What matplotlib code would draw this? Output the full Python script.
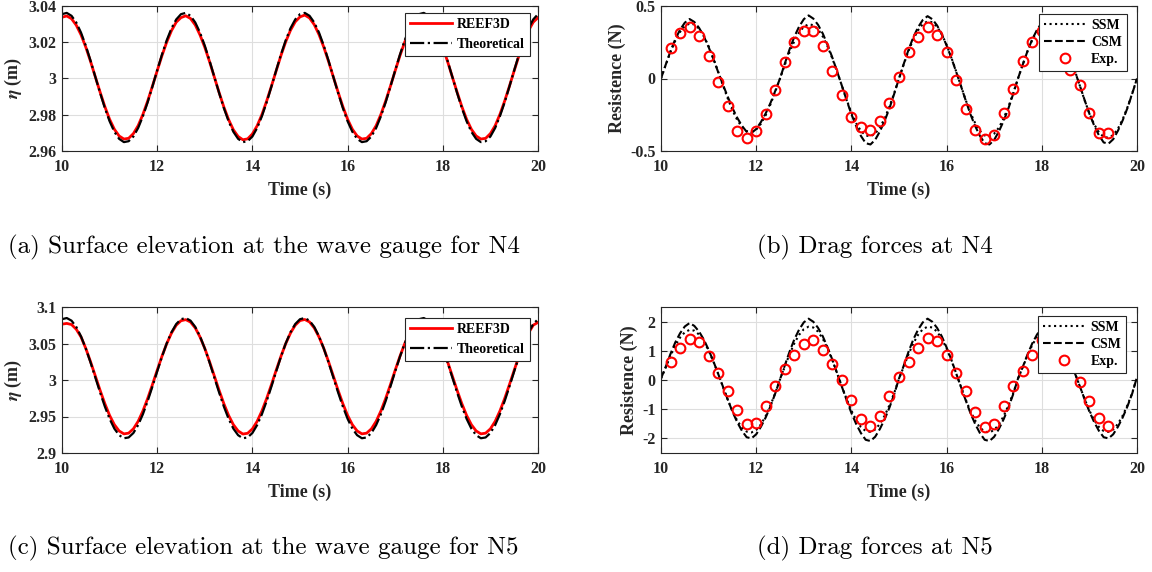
import numpy as np
import matplotlib
matplotlib.use('Agg')
import matplotlib.pyplot as plt

plt.rcParams['font.family'] = ['Liberation Serif', 'DejaVu Serif']
plt.rcParams['font.weight'] = 'bold'
plt.rcParams['axes.unicode_minus'] = False
plt.rcParams['mathtext.fontset'] = 'stix'

# ---------------- data ----------------
time_line = np.round(np.linspace(10.0, 20.0, 101), 2)
time_exp = np.round(np.linspace(10.2, 19.4, 47), 2)

eta_n4_reef3d = [
    3.0338, 3.0345, 3.0330, 3.0294, 3.0241, 3.0173, 3.0094, 3.0009, 2.9925, 2.9845,
    2.9775, 2.9720, 2.9683, 2.9666, 2.9670, 2.9696, 2.9740, 2.9802, 2.9876, 2.9958,
    3.0043, 3.0126, 3.0201, 3.0264, 3.0311,
    3.0336, 3.0346, 3.0331, 3.0295, 3.0240, 3.0172, 3.0093, 3.0008, 2.9923, 2.9843,
    2.9773, 2.9717, 2.9680, 2.9662, 2.9667, 2.9694, 2.9739, 2.9801, 2.9876, 2.9958,
    3.0043, 3.0127, 3.0203, 3.0266, 3.0313,
    3.0340, 3.0350, 3.0334, 3.0297, 3.0242, 3.0173, 3.0094, 3.0009, 2.9925, 2.9845,
    2.9775, 2.9720, 2.9683, 2.9666, 2.9670, 2.9696, 2.9740, 2.9802, 2.9876, 2.9958,
    3.0043, 3.0126, 3.0201, 3.0264, 3.0311,
    3.0338, 3.0345, 3.0330, 3.0294, 3.0241, 3.0173, 3.0094, 3.0009, 2.9925, 2.9845,
    2.9775, 2.9720, 2.9683, 2.9666, 2.9670, 2.9696, 2.9740, 2.9802, 2.9876, 2.9958,
    3.0043, 3.0126, 3.0201, 3.0264, 3.0311,
    3.0336]

eta_n4_theory = [
    3.0355, 3.0362, 3.0346, 3.0309, 3.0253, 3.0181, 3.0098, 3.0009, 2.9921, 2.9837,
    2.9764, 2.9706, 2.9667, 2.9649, 2.9654, 2.9680, 2.9727, 2.9792, 2.9869, 2.9956,
    3.0045, 3.0132, 3.0211, 3.0277, 3.0326,
    3.0355, 3.0362, 3.0346, 3.0309, 3.0253, 3.0181, 3.0098, 3.0009, 2.9921, 2.9837,
    2.9764, 2.9706, 2.9667, 2.9649, 2.9654, 2.9680, 2.9727, 2.9792, 2.9869, 2.9956,
    3.0045, 3.0132, 3.0211, 3.0277, 3.0326,
    3.0355, 3.0362, 3.0346, 3.0309, 3.0253, 3.0181, 3.0098, 3.0009, 2.9921, 2.9837,
    2.9764, 2.9706, 2.9667, 2.9649, 2.9654, 2.9680, 2.9727, 2.9792, 2.9869, 2.9956,
    3.0045, 3.0132, 3.0211, 3.0277, 3.0326,
    3.0355, 3.0362, 3.0346, 3.0309, 3.0253, 3.0181, 3.0098, 3.0009, 2.9921, 2.9837,
    2.9764, 2.9706, 2.9667, 2.9649, 2.9654, 2.9680, 2.9727, 2.9792, 2.9869, 2.9956,
    3.0045, 3.0132, 3.0211, 3.0277, 3.0326,
    3.0355]

eta_n5_reef3d = [
    3.0765, 3.0775, 3.0760, 3.0695, 3.0589, 3.0432, 3.0250, 3.0055, 2.9859, 2.9676,
    2.9515, 2.9388, 2.9302, 2.9262, 2.9272, 2.9331, 2.9434, 2.9576, 2.9747, 2.9937,
    3.0134, 3.0325, 3.0498, 3.0643, 3.0751,
    3.0812, 3.0827, 3.0794, 3.0713, 3.0589, 3.0432, 3.0250, 3.0055, 2.9859, 2.9676,
    2.9515, 2.9388, 2.9302, 2.9260, 2.9270, 2.9330, 2.9434, 2.9576, 2.9747, 2.9937,
    3.0134, 3.0325, 3.0498, 3.0643, 3.0751,
    3.0814, 3.0829, 3.0795, 3.0713, 3.0589, 3.0432, 3.0250, 3.0055, 2.9859, 2.9676,
    2.9515, 2.9388, 2.9302, 2.9262, 2.9272, 2.9331, 2.9434, 2.9576, 2.9747, 2.9937,
    3.0134, 3.0325, 3.0498, 3.0643, 3.0751,
    3.0814, 3.0829, 3.0795, 3.0713, 3.0589, 3.0432, 3.0250, 3.0055, 2.9859, 2.9676,
    2.9515, 2.9388, 2.9302, 2.9262, 2.9272, 2.9331, 2.9434, 2.9576, 2.9747, 2.9937,
    3.0134, 3.0325, 3.0498, 3.0643, 3.0751,
    3.0790]

eta_n5_theory = [
    3.0833, 3.0849, 3.0813, 3.0727, 3.0597, 3.0431, 3.0240, 3.0035, 2.9830, 2.9637,
    2.9468, 2.9334, 2.9244, 2.9202, 2.9213, 2.9274, 2.9383, 2.9532, 2.9712, 2.9911,
    3.0118, 3.0319, 3.0502, 3.0654, 3.0767,
    3.0833, 3.0849, 3.0813, 3.0727, 3.0597, 3.0431, 3.0240, 3.0035, 2.9830, 2.9637,
    2.9468, 2.9334, 2.9244, 2.9202, 2.9213, 2.9274, 2.9383, 2.9532, 2.9712, 2.9911,
    3.0118, 3.0319, 3.0502, 3.0654, 3.0767,
    3.0833, 3.0849, 3.0813, 3.0727, 3.0597, 3.0431, 3.0240, 3.0035, 2.9830, 2.9637,
    2.9468, 2.9334, 2.9244, 2.9202, 2.9213, 2.9274, 2.9383, 2.9532, 2.9712, 2.9911,
    3.0118, 3.0319, 3.0502, 3.0654, 3.0767,
    3.0833, 3.0849, 3.0813, 3.0727, 3.0597, 3.0431, 3.0240, 3.0035, 2.9830, 2.9637,
    2.9468, 2.9334, 2.9244, 2.9202, 2.9213, 2.9274, 2.9383, 2.9532, 2.9712, 2.9911,
    3.0118, 3.0319, 3.0502, 3.0654, 3.0767,
    3.0833]

force_n4_ssm = [
    0.000, 0.095, 0.183, 0.260, 0.321, 0.361, 0.379, 0.373, 0.344, 0.293,
    0.223, 0.140, 0.048, -0.046, -0.136, -0.218, -0.285, -0.335, -0.363, -0.369,
    -0.352, -0.312, -0.253, -0.178, -0.092,
    0.000, 0.093, 0.181, 0.257, 0.317, 0.357, 0.374, 0.368, 0.339, 0.289,
    0.221, 0.138, 0.047, -0.050, -0.147, -0.235, -0.308, -0.362, -0.393, -0.399,
    -0.380, -0.338, -0.274, -0.193, -0.100,
    0.000, 0.098, 0.190, 0.270, 0.333, 0.376, 0.394, 0.388, 0.357, 0.304,
    0.232, 0.145, 0.049, -0.050, -0.147, -0.235, -0.308, -0.362, -0.393, -0.399,
    -0.380, -0.338, -0.274, -0.193, -0.100,
    0.000, 0.097, 0.188, 0.267, 0.329, 0.371, 0.389, 0.383, 0.353, 0.301,
    0.229, 0.144, 0.049, -0.051, -0.151, -0.241, -0.316, -0.371, -0.403, -0.409,
    -0.390, -0.346, -0.281, -0.198, -0.102,
    0.000]

force_n4_csm = [
    0.000, 0.096, 0.189, 0.271, 0.336, 0.385, 0.410, 0.390, 0.349, 0.291,
    0.217, 0.135, 0.045, -0.041, -0.124, -0.203, -0.270, -0.326, -0.368, -0.375,
    -0.349, -0.300, -0.240, -0.169, -0.086,
    0.000, 0.102, 0.200, 0.287, 0.357, 0.409, 0.435, 0.413, 0.370, 0.309,
    0.231, 0.144, 0.048, -0.050, -0.150, -0.246, -0.328, -0.396, -0.446, -0.455,
    -0.423, -0.364, -0.291, -0.205, -0.105,
    0.000, 0.101, 0.198, 0.284, 0.353, 0.404, 0.430, 0.409, 0.366, 0.305,
    0.228, 0.142, 0.047, -0.050, -0.150, -0.246, -0.328, -0.396, -0.446, -0.455,
    -0.423, -0.364, -0.291, -0.205, -0.105,
    0.000, 0.096, 0.189, 0.271, 0.336, 0.385, 0.410, 0.390, 0.349, 0.291,
    0.217, 0.135, 0.045, -0.050, -0.149, -0.243, -0.324, -0.392, -0.441, -0.450,
    -0.419, -0.360, -0.288, -0.203, -0.104,
    0.000]

force_n4_exp = [
    0.207, 0.316, 0.357, 0.295, 0.154, -0.023, -0.191, -0.362, -0.410, -0.362,
    -0.242, -0.076, 0.113, 0.253, 0.327, 0.327, 0.224, 0.053, -0.115, -0.265,
    -0.336, -0.357, -0.293, -0.168, 0.012, 0.182, 0.288, 0.352, 0.300, 0.184,
    -0.007, -0.207, -0.357, -0.420, -0.387, -0.237, -0.071, 0.120, 0.249, 0.330,
    0.320, 0.220, 0.060, -0.046, -0.237, -0.373, -0.373]

force_n5_ssm = [
    0.050, 0.428, 0.829, 1.177, 1.452, 1.636, 1.717, 1.690, 1.556, 1.325,
    1.011, 0.633, 0.216, -0.226, -0.663, -1.058, -1.387, -1.629, -1.768, -1.796,
    -1.712, -1.520, -1.232, -0.867, -0.448,
    0.020, 0.455, 0.882, 1.253, 1.545, 1.740, 1.826, 1.798, 1.656, 1.410,
    1.076, 0.674, 0.229, -0.223, -0.655, -1.046, -1.371, -1.611, -1.748, -1.776,
    -1.693, -1.502, -1.218, -0.858, -0.443,
    0.050, 0.455, 0.882, 1.253, 1.545, 1.740, 1.826, 1.798, 1.656, 1.410,
    1.076, 0.674, 0.229, -0.226, -0.663, -1.058, -1.387, -1.629, -1.768, -1.796,
    -1.712, -1.520, -1.232, -0.867, -0.448,
    0.050, 0.436, 0.843, 1.198, 1.478, 1.664, 1.747, 1.719, 1.584, 1.348,
    1.029, 0.644, 0.219, -0.223, -0.655, -1.046, -1.371, -1.611, -1.748, -1.776,
    -1.693, -1.502, -1.218, -0.858, -0.443,
    0.100]

force_n5_csm = [
    0.050, 0.458, 0.897, 1.287, 1.599, 1.833, 1.950, 1.853, 1.658, 1.385,
    1.034, 0.644, 0.215, -0.220, -0.660, -1.080, -1.440, -1.740, -1.960, -2.000,
    -1.860, -1.600, -1.280, -0.900, -0.460,
    0.020, 0.494, 0.966, 1.386, 1.722, 1.974, 2.100, 1.995, 1.785, 1.491,
    1.113, 0.693, 0.231, -0.230, -0.690, -1.129, -1.505, -1.818, -2.048, -2.090,
    -1.944, -1.672, -1.338, -0.941, -0.481,
    0.050, 0.494, 0.966, 1.386, 1.722, 1.974, 2.100, 1.995, 1.785, 1.491,
    1.113, 0.693, 0.231, -0.230, -0.690, -1.129, -1.505, -1.818, -2.048, -2.090,
    -1.944, -1.672, -1.338, -0.941, -0.481,
    0.050, 0.447, 0.874, 1.254, 1.558, 1.786, 1.900, 1.805, 1.615, 1.349,
    1.007, 0.627, 0.209, -0.220, -0.660, -1.080, -1.440, -1.740, -1.960, -2.000,
    -1.860, -1.600, -1.280, -0.900, -0.460,
    0.100]

force_n5_exp = [
    0.61, 1.11, 1.39, 1.30, 0.82, 0.25, -0.37, -1.02, -1.51, -1.48,
    -0.90, -0.22, 0.36, 0.85, 1.25, 1.36, 1.03, 0.56, -0.01, -0.70,
    -1.33, -1.57, -1.23, -0.54, 0.09, 0.62, 1.08, 1.43, 1.32, 0.84,
    0.23, -0.39, -1.08, -1.60, -1.51, -0.89, -0.22, 0.32, 0.87, 1.36,
    1.35, 1.00, 0.45, -0.08, -0.71, -1.31, -1.57]

x_ticks = [10, 12, 14, 16, 18, 20]
yt_a = [2.96, 2.98, 3.0, 3.02, 3.04]
yl_a = ['2.96', '2.98', '3', '3.02', '3.04']
yt_b = [-0.5, 0.0, 0.5]
yl_b = ['-0.5', '0', '0.5']
yt_c = [2.9, 2.95, 3.0, 3.05, 3.1]
yl_c = ['2.9', '2.95', '3', '3.05', '3.1']
yt_d = [-2, -1, 0, 1, 2]
yl_d = ['-2', '-1', '0', '1', '2']

captions = ['(a) Surface elevation at the wave gauge for N4',
            '(b) Drag forces at N4',
            '(c) Surface elevation at the wave gauge for N5',
            '(d) Drag forces at N5']

# ---------------- figure ----------------
W, H = 1152, 572
fig = plt.figure(figsize=(W / 100, H / 100), dpi=100)
DARK = '#262626'


def make_axes(l, t, r, b):
    return fig.add_axes([l / W, 1 - b / H, (r - l) / W, (b - t) / H])


def style(ax, ylim, yt, yl, ylabel):
    ax.set_xlim(10, 20)
    ax.set_ylim(*ylim)
    ax.set_xticks(x_ticks)
    ax.set_xticklabels([str(v) for v in x_ticks])
    ax.set_yticks(yt)
    ax.set_yticklabels(yl)
    ax.set_axisbelow(True)
    ax.grid(True, color='#dedede', lw=0.8)
    ax.tick_params(direction='in', top=True, right=True, length=4, width=0.8,
                   colors=DARK, labelsize=11.5)
    ax.tick_params(axis='x', pad=5.5)
    ax.tick_params(axis='y', pad=4)
    for lab in ax.get_xticklabels() + ax.get_yticklabels():
        lab.set_fontweight('bold')
    for s in ax.spines.values():
        s.set_color(DARK)
        s.set_linewidth(0.8)
    ax.set_xlabel('Time (s)', fontsize=13, fontweight='bold', color=DARK, labelpad=5)
    ax.set_ylabel(ylabel, fontsize=13, fontweight='bold', color=DARK, labelpad=3)


def legend(ax, anchor, spacing):
    leg = ax.legend(loc='upper right', bbox_to_anchor=anchor, borderaxespad=0,
                    fancybox=False, framealpha=1, edgecolor=DARK, handlelength=3.0,
                    labelspacing=spacing, handletextpad=0.4, borderpad=0.35,
                    prop={'weight': 'bold', 'size': 10})
    leg.get_frame().set_linewidth(0.8)
    for txt in leg.get_texts():
        txt.set_color('black')


# (a)
ax_a = make_axes(62, 6, 538, 151)
ax_a.plot(time_line, eta_n4_reef3d, color='red', lw=2.0, label='REEF3D')
ax_a.plot(time_line, eta_n4_theory, color='black', lw=1.6, ls='-.', label='Theoretical')
style(ax_a, (2.96, 3.04), yt_a, yl_a, r'$\eta$ (m)')
legend(ax_a, (0.983, 0.952), 0.5)

# (b)
ax_b = make_axes(661, 6, 1137, 151)
ax_b.plot(time_line, force_n4_ssm, color='black', lw=1.5, ls=':', label='SSM')
ax_b.plot(time_line, force_n4_csm, color='black', lw=1.5, ls='--', label='CSM')
ax_b.plot(time_exp, force_n4_exp, ls='none', marker='o', ms=7, mfc='none',
          mec='red', mew=1.5, label='Exp.')
style(ax_b, (-0.5, 0.5), yt_b, yl_b, 'Resistence (N)')
legend(ax_b, (0.979, 0.945), 0.3)

# (c)
ax_c = make_axes(62, 307, 538, 453)
ax_c.plot(time_line, eta_n5_reef3d, color='red', lw=2.0, label='REEF3D')
ax_c.plot(time_line, eta_n5_theory, color='black', lw=1.6, ls='-.', label='Theoretical')
style(ax_c, (2.9, 3.1), yt_c, yl_c, r'$\eta$ (m)')
legend(ax_c, (0.983, 0.925), 0.5)

# (d)
ax_d = make_axes(661, 307, 1137, 453)
ax_d.plot(time_line, force_n5_ssm, color='black', lw=1.5, ls=':', label='SSM')
ax_d.plot(time_line, force_n5_csm, color='black', lw=1.5, ls='--', label='CSM')
ax_d.plot(time_exp, force_n5_exp, ls='none', marker='o', ms=7, mfc='none',
          mec='red', mew=1.5, label='Exp.')
style(ax_d, (-2.5, 2.5), yt_d, yl_d, 'Resistence (N)')
legend(ax_d, (0.977, 0.938), 0.3)

cap_pos = [(8, 247), (757, 247), (8, 548), (757, 548)]
for (cx, cy), txt in zip(cap_pos, captions):
    fig.text(cx / W, 1 - cy / H, txt, family='cmr10', fontweight='normal',
             fontsize=18, ha='left', va='center', color='black')

fig.savefig('out.png', dpi=100)
